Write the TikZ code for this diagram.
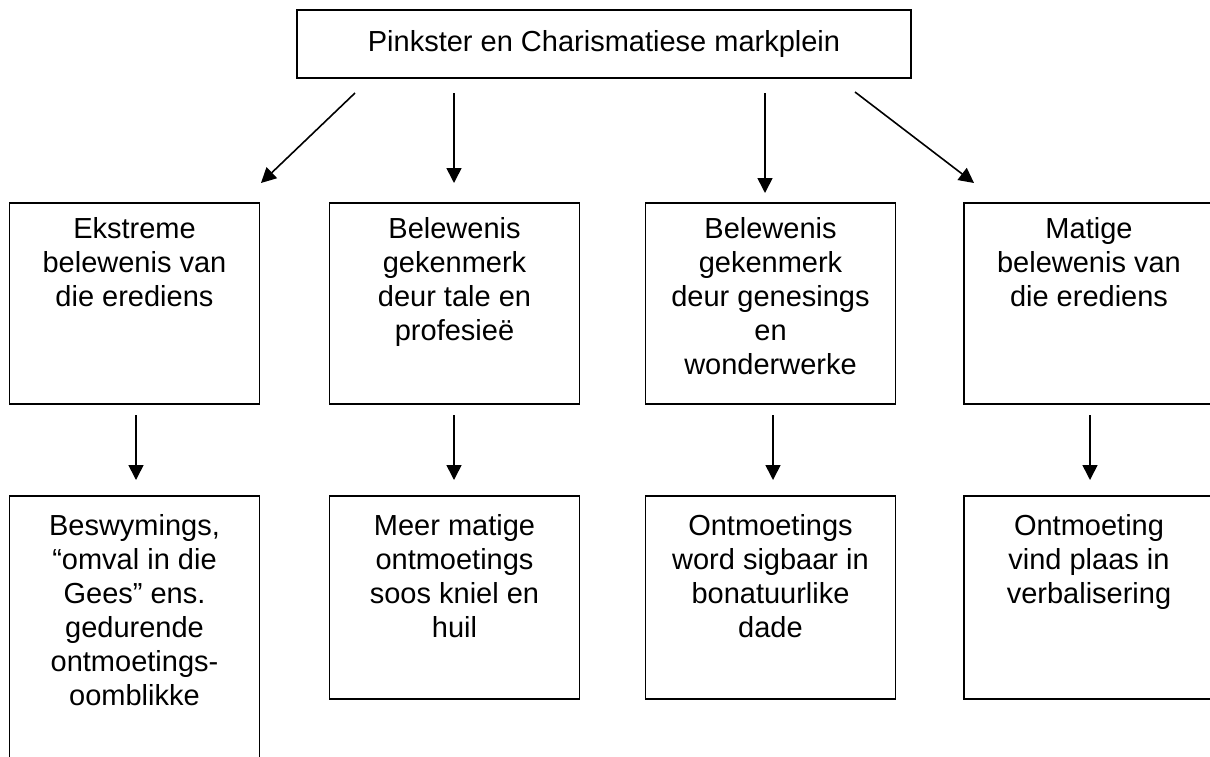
\documentclass[tikz,border=0pt]{standalone}
\usepackage{fontspec}
\setmainfont{Liberation Sans}
\usetikzlibrary{arrows.meta}
\newcommand{\uptext}[1]{\parbox[c][100.5pt][t]{125pt}{\centering\vspace*{5.8pt}\strut #1\par}}
\newcommand{\lowtext}[2]{\parbox[c][#1][t]{125pt}{\centering\vspace*{7.8pt}\strut #2\par}}
\tikzset{
  box/.style={draw, line width=0.8pt, inner sep=0pt, outer sep=0pt,
    font=\fontsize{14.5pt}{17pt}\selectfont},
  arr/.style={line width=0.8pt, -{Triangle[length=7.5pt,width=7.5pt]}}
}
\begin{document}
\begin{tikzpicture}[x=0.5pt,y=-0.5pt]
\useasboundingbox (0,0) rectangle (1210,756);
\clip (0,0) rectangle (1210,756);
% top box
\node[box, minimum width=307pt, minimum height=34pt] (top) at (604,44) {Pinkster en Charismatiese markplein};
% upper row
\node[box] (u1) at (134.5,303.5) {\uptext{Ekstreme\\belewenis van\\die erediens}};
\node[box] (u2) at (454.5,303.5) {\uptext{Belewenis\\gekenmerk\\deur tale en\\profesieë}};
\node[box] (u3) at (770.5,303.5) {\uptext{Belewenis\\gekenmerk\\deur genesings\\en\\wonderwerke}};
\node[box] (u4) at (1089,303.5) {\uptext{Matige\\belewenis van\\die erediens}};
% lower row
\node[box, anchor=north] (l1) at (134.5,496) {\lowtext{160pt}{Beswymings,\\“omval in die\\Gees” ens.\\gedurende\\ontmoetings-\\oomblikke}};
\node[box, anchor=north] (l2) at (454.5,496) {\lowtext{101.5pt}{Meer matige\\ontmoetings\\soos kniel en\\huil}};
\node[box, anchor=north] (l3) at (770.5,496) {\lowtext{101.5pt}{Ontmoetings\\word sigbaar in\\bonatuurlike\\dade}};
\node[box, anchor=north] (l4) at (1089,496) {\lowtext{101.5pt}{Ontmoeting\\vind plaas in\\verbalisering}};
% arrow end points
\coordinate (s1) at (355,93);  \coordinate (e1) at (261,183);
\coordinate (s2) at (454,93);  \coordinate (e2) at (454,183);
\coordinate (s3) at (765,93);  \coordinate (e3) at (765,193);
\coordinate (s4) at (855,92);  \coordinate (e4) at (974,183);
\coordinate (m1s) at (136,415);  \coordinate (m1e) at (136,480);
\coordinate (m2s) at (454,415);  \coordinate (m2e) at (454,480);
\coordinate (m3s) at (773,415);  \coordinate (m3e) at (773,480);
\coordinate (m4s) at (1090,415); \coordinate (m4e) at (1090,480);
\draw[arr] (s1) -- (e1);
\draw[arr] (s2) -- (e2);
\draw[arr] (s3) -- (e3);
\draw[arr] (s4) -- (e4);
\draw[arr] (m1s) -- (m1e);
\draw[arr] (m2s) -- (m2e);
\draw[arr] (m3s) -- (m3e);
\draw[arr] (m4s) -- (m4e);
\end{tikzpicture}
\end{document}
